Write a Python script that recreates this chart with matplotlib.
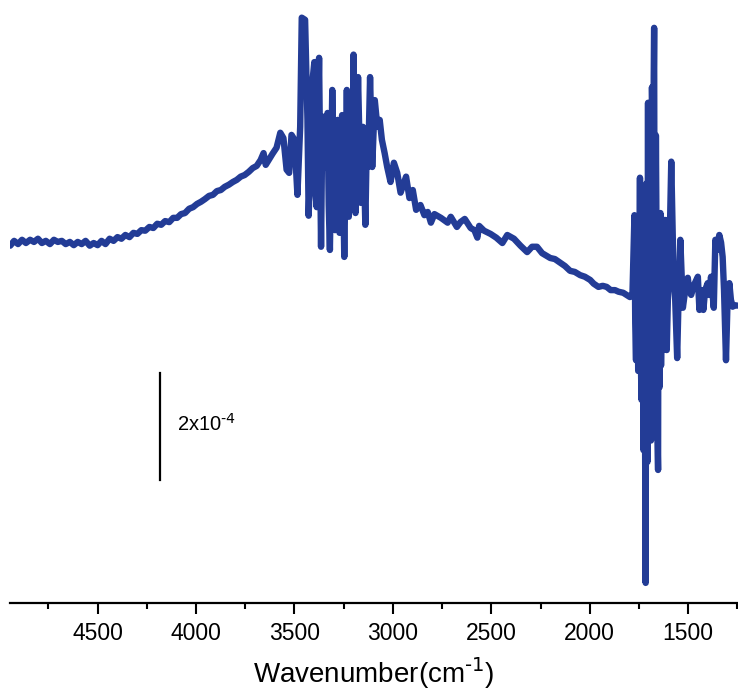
import matplotlib
matplotlib.use('Agg')
from matplotlib import pyplot as plt
from matplotlib.ticker import MultipleLocator
import numpy as np

plt.rcParams['font.family'] = ['Liberation Sans', 'DejaVu Sans']

# wavenumber (cm-1) and absorbance (units of 1e-4, arbitrary offset)
wavenumber = [
    4944, 4924, 4904, 4884, 4864, 4843, 4823, 4803, 4783, 4763,
    4742, 4722, 4702, 4682, 4662, 4641, 4621, 4601, 4581, 4561,
    4540, 4520, 4500, 4480, 4460, 4439, 4419, 4399, 4379, 4359,
    4338, 4318, 4298, 4278, 4258, 4237, 4217, 4197, 4177, 4157,
    4136, 4116, 4096, 4076, 4056, 4035, 4015, 3995, 3975, 3955,
    3934, 3914, 3894, 3874, 3854, 3833, 3813, 3793, 3773, 3753,
    3732, 3712, 3692, 3672, 3657, 3646, 3631, 3611, 3591, 3572,
    3556, 3540, 3527, 3515, 3500, 3485, 3471, 3463, 3446, 3434,
    3428, 3421, 3413, 3399, 3393, 3387, 3375, 3365, 3360, 3354,
    3342, 3332, 3326, 3320, 3308, 3294, 3288, 3281, 3271, 3264,
    3258, 3247, 3240, 3234, 3224, 3214, 3207, 3200, 3190, 3183,
    3177, 3163, 3157, 3152, 3140, 3133, 3126, 3116, 3105, 3092,
    3079, 3067, 3056, 3042, 3029, 3012, 2995, 2978, 2961, 2947,
    2933, 2916, 2899, 2882, 2860, 2840, 2823, 2807, 2789, 2756,
    2722, 2706, 2675, 2657, 2635, 2605, 2586, 2571, 2562, 2537,
    2504, 2475, 2444, 2419, 2385, 2352, 2318, 2293, 2268, 2242,
    2201, 2177, 2150, 2126, 2100, 2076, 2049, 2025, 1998, 1980,
    1956, 1934, 1914, 1894, 1872, 1854, 1830, 1813, 1796, 1783,
    1773, 1769, 1765, 1761, 1758, 1754, 1750, 1745, 1741, 1737,
    1734, 1732, 1729, 1727, 1724, 1722, 1719, 1716, 1713, 1710,
    1707, 1704, 1702, 1700, 1696, 1692, 1689, 1687, 1684, 1682,
    1678, 1675, 1673, 1670, 1667, 1664, 1662, 1657, 1653, 1651,
    1649, 1645, 1641, 1638, 1636, 1632, 1628, 1624, 1621, 1618,
    1615, 1612, 1609, 1603, 1596, 1586, 1574, 1566, 1556, 1548,
    1540, 1527, 1515, 1502, 1495, 1485, 1470, 1451, 1443, 1434,
    1423, 1414, 1401, 1394, 1384, 1370, 1362, 1354, 1342, 1333,
    1325, 1318, 1308, 1300, 1291, 1283, 1274, 1268, 1250,
]
absorbance = [
    6.64, 6.73, 6.67, 6.75, 6.69, 6.75, 6.71, 6.77, 6.69, 6.73,
    6.67, 6.75, 6.71, 6.73, 6.67, 6.71, 6.65, 6.71, 6.67, 6.73,
    6.64, 6.69, 6.65, 6.73, 6.67, 6.77, 6.73, 6.80, 6.77, 6.84,
    6.80, 6.88, 6.86, 6.93, 6.92, 6.99, 6.97, 7.05, 7.03, 7.10,
    7.08, 7.16, 7.16, 7.23, 7.25, 7.33, 7.36, 7.42, 7.46, 7.51,
    7.57, 7.59, 7.66, 7.68, 7.74, 7.78, 7.83, 7.87, 7.93, 7.96,
    8.02, 8.09, 8.13, 8.24, 8.37, 8.15, 8.24, 8.36, 8.47, 8.75,
    8.65, 8.06, 8.00, 8.71, 8.62, 7.59, 8.86, 10.90, 10.86, 8.99,
    7.20, 8.00, 9.55, 10.07, 7.60, 7.36, 10.15, 6.62, 8.40, 9.05,
    8.11, 9.12, 7.40, 6.56, 9.55, 6.93, 8.60, 8.99, 6.88, 8.30,
    9.08, 6.43, 8.20, 9.55, 7.18, 8.99, 7.50, 10.21, 7.25, 8.60,
    9.79, 7.44, 8.30, 8.86, 7.03, 8.50, 8.11, 9.79, 8.11, 9.36,
    8.86, 8.99, 8.62, 8.37, 8.11, 7.83, 8.19, 8.00, 7.63, 7.78,
    7.93, 7.53, 7.68, 7.31, 7.40, 7.21, 7.27, 7.07, 7.23, 7.16,
    7.07, 7.18, 6.99, 7.08, 7.14, 6.97, 6.93, 6.79, 7.01, 6.92,
    6.86, 6.79, 6.69, 6.84, 6.77, 6.64, 6.52, 6.62, 6.62, 6.50,
    6.41, 6.39, 6.32, 6.26, 6.17, 6.15, 6.09, 6.06, 6.00, 5.93,
    5.87, 5.89, 5.87, 5.81, 5.81, 5.78, 5.76, 5.72, 5.68, 5.76,
    7.21, 5.20, 4.50, 6.80, 6.56, 4.30, 5.07, 7.91, 4.60, 3.76,
    7.00, 7.50, 4.00, 2.82, 7.60, 6.56, 3.00, 0.34, 7.80, 5.63,
    2.60, 9.31, 4.50, 3.14, 8.90, 8.43, 3.00, 3.76, 9.60, 8.99,
    4.20, 9.80, 10.71, 3.60, 5.63, 8.70, 7.50, 3.30, 2.45, 6.90,
    6.56, 4.00, 7.25, 4.40, 5.07, 7.10, 4.69, 6.80, 7.12, 5.00,
    7.12, 5.50, 4.69, 5.68, 6.37, 8.21, 6.00, 5.63, 4.54, 5.81,
    6.75, 5.48, 5.81, 6.04, 5.81, 5.72, 5.91, 6.06, 5.44, 5.81,
    5.44, 5.81, 5.94, 5.72, 6.06, 5.48, 6.75, 6.56, 6.84, 6.70,
    6.43, 5.81, 4.50, 5.63, 5.94, 5.63, 5.50, 5.53, 5.52,
]

# scale bar: 2x10^-4 absorbance
bar_x = 4182
bar_bottom = 2.26
bar_length = 2.0

fig = plt.figure(figsize=(7.38, 6.96), dpi=100)
ax = fig.add_axes([10 / 738, 93.3 / 696, 1 - 10 / 738, 602.7 / 696])

ax.plot(wavenumber, absorbance, color='#233c96', lw=4.6,
        solid_joinstyle='round', solid_capstyle='round')

ax.plot([bar_x, bar_x], [bar_bottom, bar_bottom + bar_length], color='black', lw=1.6)
ax.text(4096, bar_bottom + bar_length / 2 + 0.05, r'2x10$^{\text{-4}}$',
        fontsize=14.5, ha='left', va='center')

ax.set_xlim(4945, 1247)
ax.set_ylim(-0.03, 11.23)

for s in ['left', 'right', 'top']:
    ax.spines[s].set_visible(False)
ax.spines['bottom'].set_linewidth(1.6)
ax.set_yticks([])
ax.xaxis.set_major_locator(MultipleLocator(500))
ax.xaxis.set_minor_locator(MultipleLocator(250))
ax.tick_params(axis='x', which='major', direction='out', length=8, width=1.5,
               labelsize=16.5, pad=6)
ax.tick_params(axis='x', which='minor', direction='out', length=4.2, width=1.5)
ax.set_xlabel(r'Wavenumber(cm$^{\text{-1}}$)', fontsize=20, labelpad=7)

fig.savefig('out.png', dpi=100)
